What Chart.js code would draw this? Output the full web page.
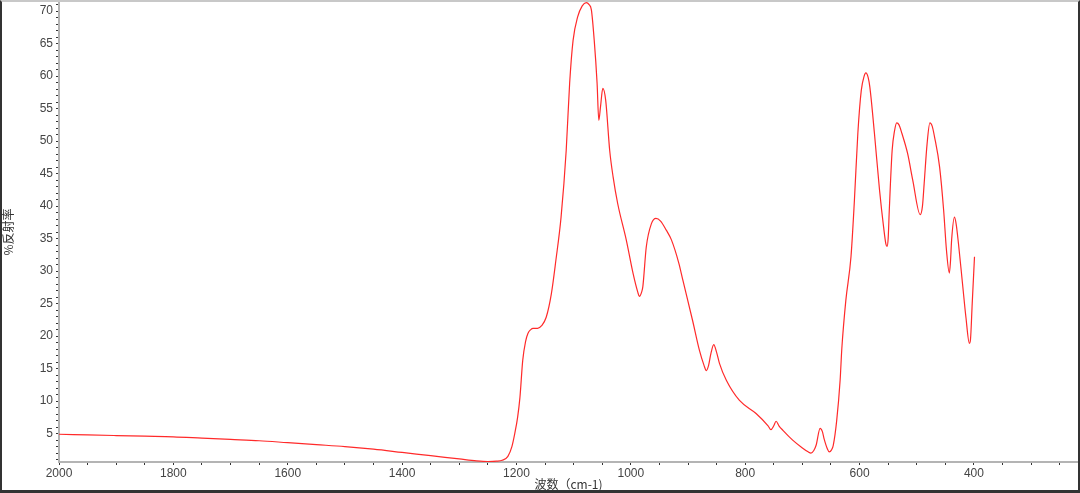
<!DOCTYPE html>
<html>
<head>
<meta charset="utf-8">
<script src="https://cdn.jsdelivr.net/npm/chart.js@4/dist/chart.umd.min.js"></script>
<style>
  html, body { margin: 0; padding: 0; background: #fff; }
  #frame {
    position: absolute; left: 0; top: 0;
    width: 1080px; height: 493px; box-sizing: border-box;
    border-top: 2px solid #c8c8c8;
    border-left: 2px solid #333;
    border-right: 2px solid #333;
    border-bottom: 3px solid #333;
  }
  #box { position: relative; width: 1076px; height: 488px; }
</style>
</head>
<body>
<div id="frame"><div id="box"><canvas id="grafico"></canvas></div></div>
<script>
// 波数 (cm-1)
const wavenumber = [2000, 1950, 1900, 1850, 1800, 1750, 1700, 1650, 1600, 1550, 1500, 1450, 1400, 1350, 1300, 1270, 1250, 1235, 1225, 1215,
    1208, 1203, 1198, 1194, 1189, 1184, 1180, 1175, 1171, 1163, 1156, 1148, 1139, 1131, 1122, 1113, 1107, 1101, 1093, 1085,
    1078, 1073, 1069, 1064, 1059, 1056, 1053, 1049, 1044, 1037, 1031, 1023, 1008, 996, 988, 985, 981, 979, 973, 964,
    956, 948, 938, 929, 916, 909, 892, 880, 872, 868, 864, 860, 855, 850, 845, 833, 810, 781, 760, 755,
    750, 746, 741, 734, 717, 700, 690, 685, 680, 676, 669, 665, 662, 656, 653, 649, 646, 640, 634, 631,
    624, 615, 609, 603, 597, 592, 589, 585, 582, 574, 565, 558, 554, 552, 550, 548, 543, 539, 535, 531,
    526, 516, 507, 494, 490, 487, 482, 477, 473, 469, 460, 453, 448, 443, 441, 439, 434, 431, 427, 420,
    414, 408, 406, 403, 399];
// %反射率
const reflect = [4.9, 4.8, 4.7, 4.6, 4.5, 4.3, 4.1, 3.9, 3.6, 3.3, 3.0, 2.6, 2.1, 1.6, 1.1, 0.8, 0.7, 0.75, 0.9, 1.5,
    3.0, 5.0, 7.5, 10.5, 16.3, 19.2, 20.4, 21.0, 21.2, 21.2, 21.6, 22.9, 26.5, 31.7, 38.3, 48.6, 58.9, 65.5, 69.1, 70.8,
    71.3, 71.0, 70.2, 65.5, 58.9, 53.2, 55.3, 58.1, 56.3, 48.6, 44.5, 40.4, 34.8, 29.6, 26.8, 26.1, 26.8, 27.6, 33.7, 37.3,
    38.1, 37.7, 36.3, 34.8, 31.2, 28.6, 22.4, 17.8, 15.5, 14.7, 15.5, 17.3, 18.7, 17.5, 15.8, 13.2, 10.1, 8.1, 6.2, 5.6,
    6.2, 6.9, 6.2, 5.5, 4.0, 2.8, 2.2, 2.0, 2.4, 3.2, 5.8, 5.3, 4.2, 2.6, 2.2, 2.5, 3.2, 7.0, 13.2, 18.1,
    25.5, 32.2, 40.9, 51.2, 57.8, 60.0, 60.5, 59.8, 58.3, 51.2, 42.4, 36.8, 34.2, 33.8, 35.0, 39.4, 48.6, 51.5, 52.8, 52.5,
    51.2, 48.1, 44.0, 38.7, 40.0, 43.5, 49.5, 52.8, 52.3, 50.7, 46.0, 39.4, 33.2, 29.7, 31.5, 34.8, 38.3, 37.2, 34.2, 28.1,
    22.9, 18.9, 19.5, 25.0, 32.2];

const xTicks = [];
for (let v = 2000; v >= 250; v -= 50) xTicks.push(v);
const yTicks = [];
for (let v = 1; v <= 71; v++) yTicks.push(v);

const puntos = wavenumber.map((w, i) => ({ x: w, y: reflect[i] }));

const fuenteTicks = { family: 'Liberation Sans', size: 12 };
const fuenteTitulo = { family: 'Noto Sans CJK SC', size: 12, lineHeight: 1 };

new Chart(document.getElementById('grafico'), {
    type: 'line',
    data: {
        datasets: [{
            label: '%反射率',
            data: puntos,
            borderColor: '#ff2a2a',
            borderWidth: 1.2,
            pointRadius: 0,
            cubicInterpolationMode: 'monotone',
            fill: false
        }]
    },
    options: {
        responsive: true,
        maintainAspectRatio: false,
        animation: false,
        layout: { padding: 0 },
        plugins: {
            legend: { display: false },
            tooltip: { enabled: false }
        },
        scales: {
            x: {
                type: 'linear',
                reverse: true,
                min: 218,
                max: 2000,
                afterBuildTicks: s => { s.ticks = xTicks.map(v => ({ value: v })); },
                afterFit: s => { s.height = 28; s.paddingLeft = 0; s.paddingRight = 0; },
                border: { color: '#b4b4b4', width: 2 },
                grid: { drawOnChartArea: false, tickLength: 3, tickColor: '#333', tickWidth: 1 },
                ticks: {
                    autoSkip: false, maxRotation: 0, padding: 1,
                    color: '#444', font: fuenteTicks,
                    callback: v => (v % 200 === 0 ? String(v) : '')
                },
                title: {
                    display: true, text: '波数（cm-1)', color: '#333',
                    font: fuenteTitulo, padding: 0
                }
            },
            y: {
                min: 0.63,
                max: 71.4,
                afterBuildTicks: s => { s.ticks = yTicks.map(v => ({ value: v })); },
                afterFit: s => { s.width = 57; s.paddingTop = 0; s.paddingBottom = 0; },
                border: { color: '#b4b4b4', width: 2 },
                grid: { drawOnChartArea: false, tickLength: 3, tickColor: '#333', tickWidth: 1 },
                ticks: {
                    autoSkip: false, padding: 3,
                    color: '#444', font: fuenteTicks,
                    callback: v => (v % 5 === 0 ? String(v) : '')
                },
                title: {
                    display: true, text: '%反射率', color: '#333',
                    font: fuenteTitulo, padding: 0
                }
            }
        }
    }
});
</script>
</body>
</html>
